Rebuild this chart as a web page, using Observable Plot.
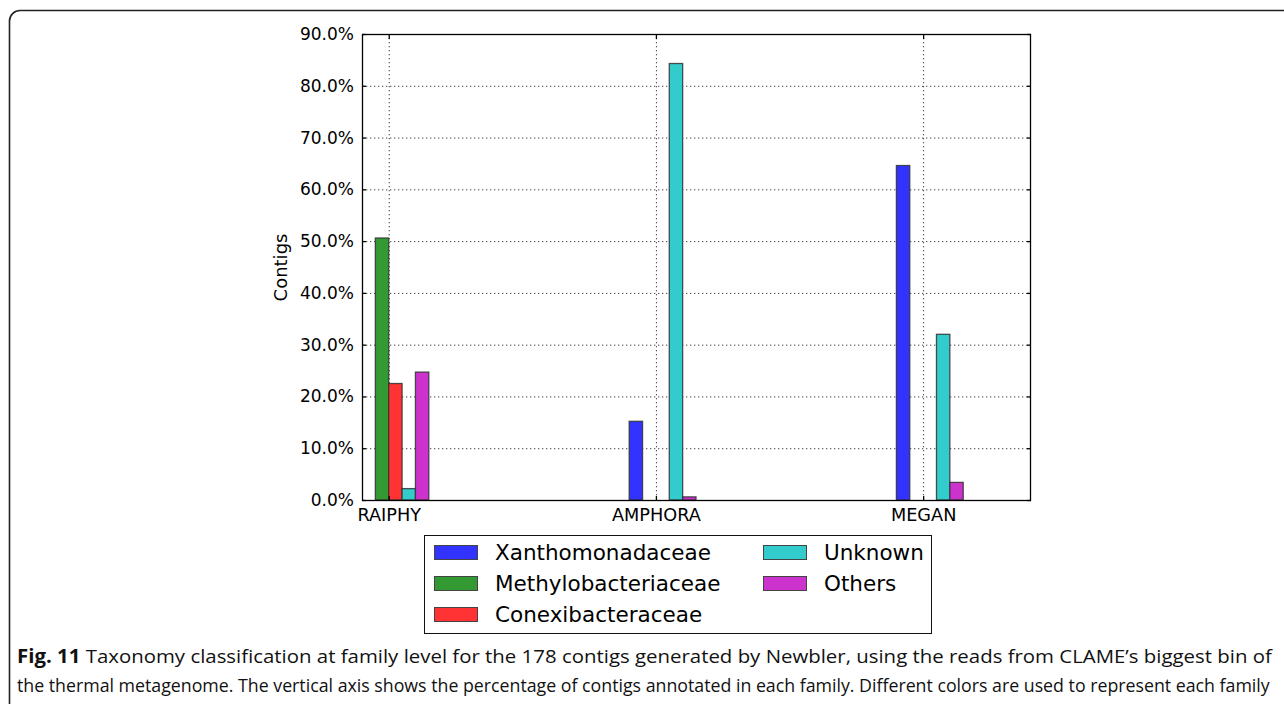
<!DOCTYPE html>
<html>
<head>
<meta charset="utf-8">
<script src="https://cdn.jsdelivr.net/npm/d3@7"></script>
<script src="https://cdn.jsdelivr.net/npm/@observablehq/plot@0.6"></script>
<style>
  body { margin: 0; background: #fff; }
  #fig { position: relative; width: 1284px; height: 704px; overflow: hidden; background: #fff; font-family: "DejaVu Sans", sans-serif; }
  #fig > svg.chart { position: absolute; left: 0; top: 0; }
  #legend { position: absolute; left: 424px; top: 535px; width: 508px; height: 99px; box-sizing: border-box; border: 1.3px solid #111; background: #fff; }
  #legend .sw { position: absolute; width: 44px; height: 15px; box-sizing: border-box; border: 1.3px solid #444; }
  #legend .lb { position: absolute; font-family: "DejaVu Sans", sans-serif; font-size: 21.5px; line-height: 21.5px; color: #000; white-space: nowrap; }
  #caption { position: absolute; left: 0; top: 0; pointer-events: none; }
</style>
</head>
<body>
<div id="fig"></div>
<script>
// Classification tools (x axis) and taxonomic families (series)
const tools = ["RAIPHY", "AMPHORA", "MEGAN"];
const families = ["Xanthomonadaceae", "Methylobacteriaceae", "Conexibacteraceae", "Unknown", "Others"];
const familyColors = ["#3333ff", "#339933", "#ff3333", "#33cccc", "#cc33cc"];

// Percentage of the 178 contigs assigned to each family, per tool (family order as above)
const raiphy  = [0, 50.6, 22.5, 2.2, 24.7];
const amphora = [15.2, 0, 0, 84.3, 0.6];
const megan   = [64.6, 0, 0, 32.0, 3.4];

const yTicks = [0, 10, 20, 30, 40, 50, 60, 70, 80, 90];
const xTicks = [0, 1, 2];
const barWidth = 0.05;

const captionLines = [
  ["Fig. 11", " Taxonomy classification at family level for the 178 contigs generated by Newbler, using the reads from CLAME\u2019s biggest bin of"],
  ["", "the thermal metagenome. The vertical axis shows the percentage of contigs annotated in each family. Different colors are used to represent each family"]
];

// One bar per (tool, family); bars of a group sit side by side around the tool's tick
const byTool = [raiphy, amphora, megan];
const rows = byTool.flatMap((vals, i) =>
  vals.map((v, k) => ({
    tool: tools[i],
    family: families[k],
    value: v,
    x1: i + (k - 2) * barWidth,
    x2: i + (k - 1) * barWidth
  }))
).filter(d => d.value > 0);

const dotted = { stroke: "#000", strokeOpacity: 0.75, strokeDasharray: "1.3,2.7", strokeWidth: 1 };
const noText = () => "";

const chart = Plot.plot({
  width: 1284,
  height: 530,
  marginLeft: 362,
  marginRight: 254,
  marginTop: 34,
  marginBottom: 30,
  style: { fontFamily: "DejaVu Sans", fontSize: "17px", color: "#000", background: "transparent" },
  x: { type: "linear", domain: [-0.1, 2.4] },
  y: { domain: [0, 90] },
  color: { domain: families, range: familyColors },
  marks: [
    Plot.gridY(yTicks, dotted),
    Plot.gridX(xTicks, dotted),
    Plot.rectY(rows, {
      x1: "x1", x2: "x2", y: "value", fill: "family",
      stroke: "#333", strokeOpacity: 0.85, strokeWidth: 1.3
    }),
    Plot.frame({ stroke: "#000", strokeWidth: 1.3 }),
    Plot.axisY(yTicks, {
      anchor: "left", tickSize: -4, tickPadding: 12.5, strokeWidth: 1.3,
      tickFormat: d => d.toFixed(1) + "%", fontSize: 17, label: null
    }),
    Plot.axisY(yTicks, {
      anchor: "left", tickSize: 0, tickFormat: noText, fontSize: 18,
      label: "Contigs", labelAnchor: "center", labelArrow: "none", labelOffset: 88
    }),
    Plot.axisY(yTicks, { anchor: "right", tickSize: -4, strokeWidth: 1.3, tickFormat: noText, label: null }),
    Plot.axisX(xTicks, {
      anchor: "bottom", tickSize: -4, tickPadding: 12, strokeWidth: 1.3,
      tickFormat: i => tools[i], fontSize: 17.7, label: null
    }),
    Plot.axisX(xTicks, { anchor: "top", tickSize: -4, strokeWidth: 1.3, tickFormat: noText, label: null })
  ]
});
chart.classList.add("chart");

const fig = document.getElementById("fig");
fig.appendChild(chart);

// Legend: two columns, swatch + family name
const legend = document.createElement("div");
legend.id = "legend";
families.forEach((name, i) => {
  const col = i < 3 ? 0 : 1;
  const row = i < 3 ? i : i - 3;
  const cy = 16.5 + row * 31;
  const sw = document.createElement("div");
  sw.className = "sw";
  sw.style.left = (col ? 338 : 9) + "px";
  sw.style.top = (cy - 7.5) + "px";
  sw.style.background = familyColors[i];
  const lb = document.createElement("div");
  lb.className = "lb";
  lb.style.left = (col ? 399 : 70) + "px";
  lb.style.top = (cy - 10.3) + "px";
  lb.textContent = name;
  legend.appendChild(sw);
  legend.appendChild(lb);
});
fig.appendChild(legend);

// Figure border and caption
const ns = "http://www.w3.org/2000/svg";
const cap = document.createElementNS(ns, "svg");
cap.id = "caption";
cap.setAttribute("width", 1284);
cap.setAttribute("height", 704);
const border = document.createElementNS(ns, "path");
border.setAttribute("d", "M1284,10.5H20A10.5,10.5 0 0 0 9.5,21V704");
border.setAttribute("fill", "none");
border.setAttribute("stroke", "#222");
border.setAttribute("stroke-width", 1.6);
cap.appendChild(border);
fig.appendChild(cap);

// Caption lines are set in a narrow measure: each line is squeezed horizontally to its width
const lineY = [663, 692];
const lineLen = [1256, 1254];
captionLines.forEach(([bold, rest], j) => {
  const t = document.createElementNS(ns, "text");
  t.setAttribute("x", 0);
  t.setAttribute("y", 0);
  t.setAttribute("font-family", "Open Sans, sans-serif");
  t.setAttribute("font-size", 19);
  t.setAttribute("fill", "#111");
  if (bold) {
    const b = document.createElementNS(ns, "tspan");
    b.setAttribute("font-weight", "bold");
    b.textContent = bold;
    t.appendChild(b);
  }
  const r = document.createElementNS(ns, "tspan");
  r.textContent = rest;
  t.appendChild(r);
  cap.appendChild(t);
  const natural = t.getComputedTextLength();
  t.setAttribute("transform", `translate(17,${lineY[j]}) scale(${lineLen[j] / natural},1)`);
});
</script>
</body>
</html>
